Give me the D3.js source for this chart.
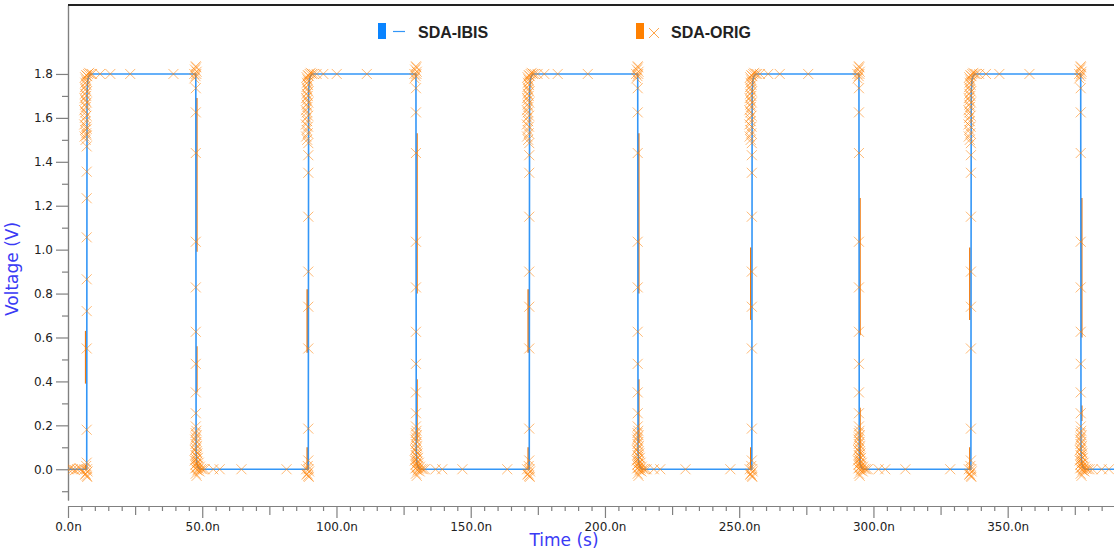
<!DOCTYPE html>
<html><head><meta charset="utf-8">
<script src="https://cdn.jsdelivr.net/npm/d3@7"></script>
<style>body{margin:0;background:#fff}svg{display:block}</style>
</head><body>
<svg id="c" width="1114" height="555"></svg>
<script>
// ---------- data (times in ns, voltages in V) ----------
const riseTimes = [6.97, 89.5, 171.8, 254.7, 336.3];
const fallTimes = [47.6, 129.6, 212.2, 294.6, 377.2];
const tEnd = 389.6;

// SDA-IBIS corner shapes: [dt, v]
const ibisRise = [[0,0],[0.12,1.72],[0.4,1.775],[0.9,1.793],[1.6,1.8]];
const ibisFall = [[0,1.8],[0.12,0.08],[0.4,0.025],[0.9,0.007],[1.6,0]];

// SDA-ORIG markers
const startFlat = [[0.2,0],[1.0,0.004],[1.8,0],[2.6,-0.004],[3.4,0],[4.2,0.004],[5.0,0]];
const riseSparse = [
  [0.03,0.18,0.55,0.72,0.865,1.056,1.234,1.355,1.47,1.52,1.55],
  [0.04,0.185,0.55,0.74,0.9,1.15,1.35,1.43,1.485],
  [0.04,0.185,0.55,0.74,0.9,1.15,1.35,1.43,1.485],
  [0.04,0.185,0.55,0.74,0.9,1.15,1.35,1.43,1.485],
  [0.04,0.185,0.55,0.74,0.9,1.15,1.35,1.43,1.485]
];
const fallSparse = [1.735,1.625,1.44,1.036,0.828,0.626,0.48,0.35,0.255,0.195];
const riseBlob = [[-0.8,0.0],[-0.4,-0.02],[0,-0.03],[0.3,-0.01],[-0.2,0.015],[0.1,0.0],[-0.6,-0.025],[0.2,-0.035]];
const riseDense = [[-0.4,1.50],[-0.8,1.515],[-0.2,1.53],[-0.6,1.545],[-0.1,1.56],[-0.9,1.57],[-0.4,1.585],
  [-0.7,1.60],[-0.1,1.61],[-0.5,1.625],[-0.9,1.635],[-0.3,1.65],[-0.6,1.66],[0.0,1.67],[-0.5,1.68],
  [-0.8,1.69],[-0.2,1.70],[-0.6,1.71],[0.0,1.72],[-0.4,1.73],[-0.7,1.74],[-0.1,1.75],[-0.5,1.76],
  [0.0,1.765],[-0.3,1.775],[-0.6,1.785],[0.2,1.79],[-0.2,1.795],[0.5,1.80],[0.9,1.805],[1.4,1.80],[2.0,1.80]];
const fallBlob = [[-0.6,1.80],[-0.3,1.82],[-0.1,1.79],[0.1,1.83],[0.3,1.81],[-0.5,1.78],[0.2,1.80],[0.0,1.835]];
const fallDense = [[0.2,0.175],[-0.1,0.165],[0.3,0.155],[0.0,0.145],[-0.2,0.135],[0.3,0.125],[-0.1,0.115],
  [0.4,0.105],[0.1,0.095],[-0.3,0.087],[0.3,0.08],[0.6,0.072],[-0.1,0.065],[0.3,0.058],[0.8,0.052],
  [0.1,0.046],[-0.4,0.04],[0.5,0.035],[1.1,0.03],[0.2,0.025],[-0.2,0.02],[0.8,0.016],[1.5,0.012],
  [0.4,0.008],[-0.2,0.004],[1.1,0.003],[2.0,0.002],[0.6,-0.005],[2.6,0.0],[3.3,0.0],[0.0,-0.02],[1.4,-0.01],[0.3,-0.03]];
const highFlat = [[5.0,8.8,16.2,32.3],[3.1,5.6,10.6,21.8],[3.1,5.6,10.6,21.8],[3.0,6.1,10.4,21.0],[3.1,5.6,10.6,21.8]];
const lowFlat = [[6.5,8.9,17.0,33.8],[7.3,9.8,17.3,34.0],[6.0,8.4,17.8,34.5],[7.3,9.8,17.3,34.0],[4.4,7.8,10.5]];

// SDA-ORIG trace pieces that show beside the IBIS trace: [vLow, vHigh]
const origRiseSeg = [[0.39,0.63],[0.53,0.82],[0.53,0.82],[0.68,1.01],[0.68,1.01]];
const origRiseLow = [[0.0,0.02],[0.0,0.1],[0.0,0.1],[0.0,0.1],[0.0,0.1]];
const origFallSeg = [[0.99,1.69],[0.80,1.53],[0.80,1.53],[0.61,1.235],[0.60,1.235]];
const origFallLow = [[0.35,0.56],[0.13,0.41],[0.12,0.41],[0.04,0.28],[0.22,0.29]];

// axis ticks
const yMajor = [0.0,0.2,0.4,0.6,0.8,1.0,1.2,1.4,1.6,1.8];
const yMinor = [-0.1,0.1,0.3,0.5,0.7,0.9,1.1,1.3,1.5,1.7];
const xMajor = [0,50,100,150,200,250,300,350];
const xMid = [25,75,125,175,225,275,325,375];

// ---------- build series ----------
const ibisPts = [[0,0]];
riseTimes.forEach((tr,i)=>{
  ibisRise.forEach(([d,v])=>ibisPts.push([tr+d,v]));
  ibisFall.forEach(([d,v])=>ibisPts.push([fallTimes[i]+d,v]));
});
ibisPts.push([tEnd,0]);

const origPts = [];
startFlat.forEach(p=>origPts.push(p));
riseTimes.forEach((tr,i)=>{
  const tf = fallTimes[i];
  riseBlob.forEach(([d,v])=>origPts.push([tr+d,v]));
  riseSparse[i].forEach(v=>origPts.push([tr,v]));
  riseDense.forEach(([d,v])=>origPts.push([tr+d,v]));
  highFlat[i].forEach(d=>origPts.push([tr+d,1.8]));
  fallBlob.forEach(([d,v])=>origPts.push([tf+d,v]));
  fallSparse.forEach(v=>origPts.push([tf,v]));
  fallDense.forEach(([d,v])=>origPts.push([tf+d,v]));
  lowFlat[i].forEach(d=>origPts.push([tf+d,0]));
});

const off = 0.4; // about one pixel
const origPieces = [];
riseTimes.forEach((tr,i)=>{
  const tf = fallTimes[i];
  [origRiseLow[i], origRiseSeg[i]].forEach(([lo,hi])=>origPieces.push([[tr-off,lo],[tr-off,hi]]));
  [origFallSeg[i], origFallLow[i]].forEach(([lo,hi])=>origPieces.push([[tf+off,hi],[tf+off,lo]]));
});

// ---------- drawing ----------
const svg = d3.select('#c');
const L = 68, R = 1114, T = 5, B = 500, XA = 506;
const x = d3.scaleLinear().domain([0,tEnd]).range([L,R]);
const y = d3.scaleLinear().domain([-0.14,2.114]).range([B,T]);

svg.append('defs').append('clipPath').attr('id','clip')
  .append('rect').attr('x',L).attr('y',T).attr('width',R-L).attr('height',B-T);

const axisColor = '#808080', labelFont = 'DejaVu Sans, sans-serif';

// y axis
const gy = svg.append('g').attr('transform',`translate(${L},0)`);
gy.call(d3.axisLeft(y).tickValues(yMinor).tickSize(6).tickSizeOuter(0).tickFormat(''));
gy.append('g').call(d3.axisLeft(y).tickValues(yMajor).tickSize(12).tickSizeOuter(0).tickPadding(3).tickFormat(d3.format('.1f')));
gy.selectAll('.domain').attr('stroke',axisColor).attr('stroke-width',1.2);
gy.selectAll('line').attr('stroke',axisColor).attr('stroke-width',1.2);
gy.selectAll('text').attr('fill','#222').attr('font-family',labelFont).attr('font-size',12);

// x axis
const gx = svg.append('g').attr('transform',`translate(0,${XA})`);
const xMinor = d3.range(5,tEnd,5).filter(v=>v%25!==0);
gx.call(d3.axisBottom(x).tickValues(xMinor).tickSize(5).tickSizeOuter(0).tickFormat(''));
gx.append('g').call(d3.axisBottom(x).tickValues(xMid).tickSize(9).tickSizeOuter(0).tickFormat(''));
gx.append('g').call(d3.axisBottom(x).tickValues(xMajor).tickSize(12).tickSizeOuter(0).tickPadding(4).tickFormat(d=>d3.format('.1f')(d)+'n'));
gx.selectAll('.domain').attr('stroke',axisColor).attr('stroke-width',1.2);
gx.selectAll('line').attr('stroke',axisColor).attr('stroke-width',1.2);
gx.selectAll('text').attr('fill','#222').attr('font-family',labelFont).attr('font-size',12);

// top border
svg.append('line').attr('x1',L).attr('x2',R).attr('y1',T).attr('y2',T)
  .attr('stroke','#222').attr('stroke-width',2);

// axis titles
svg.append('text').attr('x',564).attr('y',546).attr('text-anchor','middle')
  .attr('font-family',labelFont).attr('font-size',17).attr('fill','#3a3af5').text('Time (s)');
svg.append('text').attr('transform','translate(18,269) rotate(-90)').attr('text-anchor','middle')
  .attr('font-family',labelFont).attr('font-size',17).attr('fill','#3a3af5').text('Voltage (V)');

const plot = svg.append('g').attr('clip-path','url(#clip)');
const line = d3.line().x(d=>x(d[0])).y(d=>y(d[1]));

plot.append('g').selectAll('path').data(origPieces).join('path').attr('d',line).attr('fill','none')
  .attr('stroke','#f07a10').attr('stroke-width',1.5);
plot.append('path').datum(ibisPts).attr('d',line).attr('fill','none')
  .attr('stroke','#3396f7').attr('stroke-width',1.6).attr('stroke-linejoin','round');

const mk = 'M-5,-5L5,5M-5,5L5,-5';
plot.append('g').selectAll('path').data(origPts).join('path')
  .attr('transform',d=>`translate(${x(d[0])},${y(d[1])})`)
  .attr('d',mk).attr('fill','none').attr('stroke','#ff8000')
  .attr('stroke-opacity',0.55).attr('stroke-width',1);

// legend
const lg = svg.append('g');
lg.append('rect').attr('x',378).attr('y',23).attr('width',8).attr('height',16).attr('fill','#0a84ff');
lg.append('line').attr('x1',393).attr('x2',405).attr('y1',31.5).attr('y2',31.5).attr('stroke','#3396f7').attr('stroke-width',1.2);
lg.append('text').attr('x',418).attr('y',37.5).attr('font-family','Liberation Sans, Arial, sans-serif')
  .attr('font-weight','bold').attr('font-size',16).attr('fill','#222').text('SDA-IBIS');
lg.append('rect').attr('x',636).attr('y',23).attr('width',8).attr('height',16).attr('fill','#ff8000');
lg.append('path').attr('transform','translate(654,33)').attr('d',mk).attr('fill','none')
  .attr('stroke','#ff8000').attr('stroke-opacity',0.7).attr('stroke-width',1);
lg.append('text').attr('x',671).attr('y',37.5).attr('font-family','Liberation Sans, Arial, sans-serif')
  .attr('font-weight','bold').attr('font-size',16).attr('fill','#222').text('SDA-ORIG');
</script>
</body></html>
